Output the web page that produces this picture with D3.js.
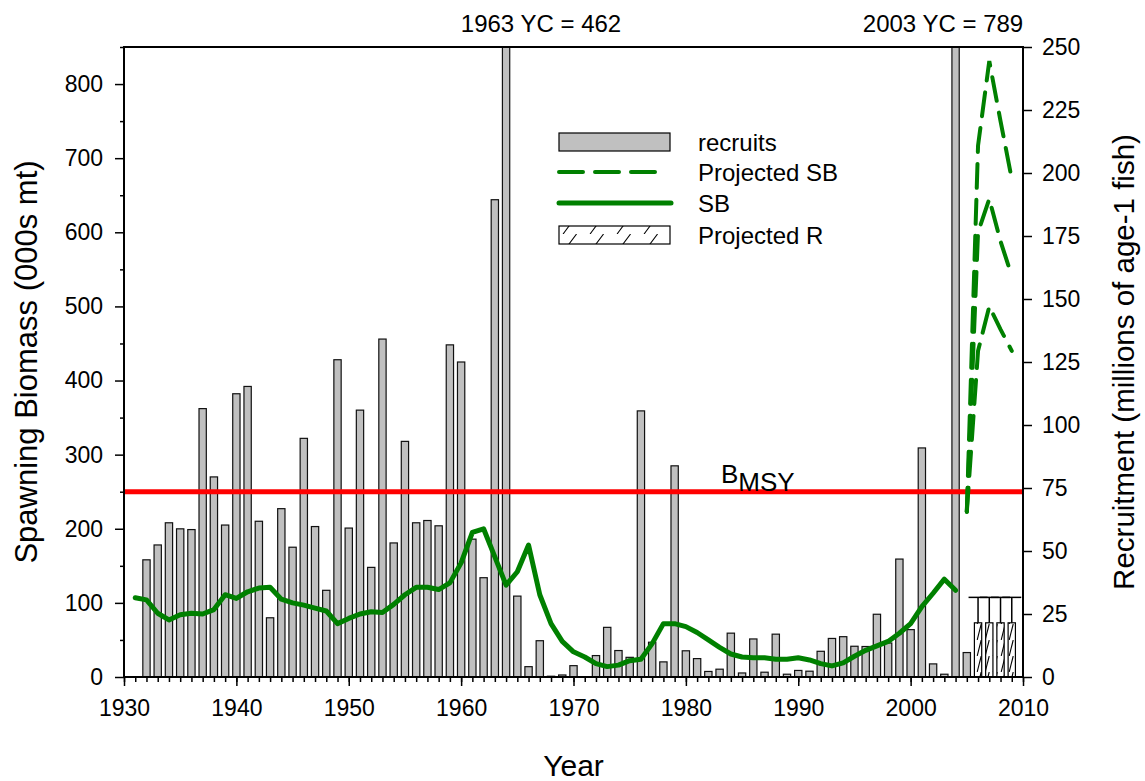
<!DOCTYPE html>
<html>
<head>
<meta charset="utf-8">
<script src="https://cdn.jsdelivr.net/npm/d3@7"></script>
<style>
  body { margin: 0; background: #fff; }
  text { font-family: "Liberation Sans", Arial, sans-serif; fill: #000; }
</style>
</head>
<body>
<div id="viz"></div>
<script>
// recruits (millions of age-1 fish), plotted at age-1 year
const recruitYears = d3.range(1932, 2006);
const recruits = [
  46.5, 52.4, 61.2, 58.8, 58.5, 106.5, 79.4, 60.3, 112.4, 115.3,
  61.8, 23.5, 66.8, 51.5, 94.7, 59.7, 34.4, 125.9, 59.1, 105.9,
  43.5, 134.1, 53.2, 93.5, 61.2, 62.1, 60.0, 131.8, 125.0, 54.7,
  39.4, 189.4, 462, 32.1, 4.1, 14.4, 0.3, 0.8, 4.5, 0,
  8.5, 19.7, 10.5, 7.8, 105.6, 13.8, 6.0, 83.8, 10.4, 7.3,
  2.2, 3.1, 17.4, 1.6, 15.1, 1.9, 17.0, 1.1, 2.6, 2.3,
  10.2, 15.3, 16.0, 12.2, 12.1, 24.9, 13.5, 46.8, 18.8, 90.9,
  5.2, 1.1, 789, 9.7
];

// spawning biomass (000s mt)
const sbYears = d3.range(1931, 2005);
const sb = [
  107, 104, 86, 77, 84, 86, 85, 91, 111, 106,
  115, 120, 121, 105, 100, 97, 93, 89, 72, 79,
  85, 88, 87, 98, 111, 121, 121, 118, 127, 154,
  195, 200, 162, 124, 142, 178, 111, 72, 48, 34,
  27, 18, 14, 16, 22, 24, 45, 72, 72, 68,
  60, 50, 40, 31, 27, 26, 26, 24, 24, 26,
  23, 18, 15, 19, 28, 36, 42, 48, 59, 72,
  95, 113, 132, 117
];

// projected SB (000s mt), three scenarios
const projYears = [2005, 2006, 2007, 2008, 2009];
const projHigh = [223, 717, 831, 750, 672];
const projMid = [223, 600, 645, 588, 541];
const projLow = [223, 440, 500, 469, 440];

// projected recruitment (millions) with upper error
const projRYears = [2006, 2007, 2008, 2009];
const projR = [21.5, 21.5, 21.5, 21.5];
const projRUpper = [31.6, 31.6, 31.6, 31.6];

const bmsy = 250;
const leftTicks = d3.range(0, 801, 100);
const rightTicks = d3.range(0, 251, 25);
const yearTicks = d3.range(1930, 2011, 10);

const width = 1145;
const height = 781;
const margin = {top: 47, right: 122, bottom: 104, left: 124};

const svg = d3.select('#viz')
  .append('svg')
  .attr('width', width)
  .attr('height', height);

const x = d3.scaleLinear().domain([1930, 2010]).range([margin.left, width - margin.right]);
const yL = d3.scaleLinear().domain([0, 850]).range([height - margin.bottom, margin.top]);
const yR = d3.scaleLinear().domain([0, 250]).range([height - margin.bottom, margin.top]);

const barW = (x(1931) - x(1930)) * 0.65;

const defs = svg.append('defs');
defs.append('clipPath').attr('id', 'plot')
  .append('rect')
  .attr('x', margin.left).attr('y', margin.top)
  .attr('width', x(2010) - x(1930)).attr('height', yL(0) - yL(850));

// hatch patterns: bars and legend swatch
const makeHatch = (id, w, h) => {
  const p = defs.append('pattern')
    .attr('id', id)
    .attr('patternUnits', 'userSpaceOnUse')
    .attr('width', w).attr('height', h);
  p.append('rect').attr('width', w).attr('height', h).attr('fill', '#fff');
  p.append('path')
    .attr('d', `M${w * 0.15},${h} L${w * 0.65},0`)
    .attr('stroke', '#000').attr('stroke-width', 1.1);
};
makeHatch('hatch', 8, 16);
makeHatch('hatchLegend', 27, 18);

const plot = svg.append('g').attr('clip-path', 'url(#plot)');

// recruits bars
plot.selectAll('.bar')
  .data(recruits)
  .join('rect')
  .attr('class', 'bar')
  .attr('x', (d, i) => x(recruitYears[i]) - barW / 2)
  .attr('y', d => yR(d))
  .attr('width', barW)
  .attr('height', d => yR(0) - yR(d))
  .attr('fill', '#c0c0c0')
  .attr('stroke', '#111')
  .attr('stroke-width', 1.2);

// projected recruitment with error bars
plot.selectAll('.pbar')
  .data(projR)
  .join('rect')
  .attr('class', 'pbar')
  .attr('x', (d, i) => x(projRYears[i]) - barW / 2)
  .attr('y', d => yR(d))
  .attr('width', barW)
  .attr('height', d => yR(0) - yR(d))
  .attr('fill', 'url(#hatch)')
  .attr('stroke', '#000')
  .attr('stroke-width', 1.2);

const capW = 9.5;
projRUpper.forEach((u, i) => {
  const cx = x(projRYears[i]);
  plot.append('line')
    .attr('x1', cx).attr('x2', cx)
    .attr('y1', yR(projR[i])).attr('y2', yR(u))
    .attr('stroke', '#000').attr('stroke-width', 1.5);
  plot.append('line')
    .attr('x1', cx - capW).attr('x2', cx + capW)
    .attr('y1', yR(u)).attr('y2', yR(u))
    .attr('stroke', '#000').attr('stroke-width', 1.5);
});

// BMSY reference line
plot.append('line')
  .attr('x1', x(1930)).attr('x2', x(2010))
  .attr('y1', yL(bmsy)).attr('y2', yL(bmsy))
  .attr('stroke', '#ff0000')
  .attr('stroke-width', 5);

const bLabel = svg.append('text')
  .attr('x', 721)
  .attr('y', yL(bmsy) - 9)
  .style('font-size', '26px');
bLabel.append('tspan').text('B');
bLabel.append('tspan').attr('dy', 8).text('MSY');

// SB line
const line = d3.line()
  .x(d => x(d[0]))
  .y(d => yL(d[1]));

plot.append('path')
  .datum(sbYears.map((yr, i) => [yr, sb[i]]))
  .attr('d', line)
  .attr('fill', 'none')
  .attr('stroke', '#008000')
  .attr('stroke-width', 5)
  .attr('stroke-linejoin', 'round')
  .attr('stroke-linecap', 'round');

// projected SB lines
[projHigh, projMid, projLow].forEach(s => {
  plot.append('path')
    .datum(projYears.map((yr, i) => [yr, s[i]]))
    .attr('d', line)
    .attr('fill', 'none')
    .attr('stroke', '#008000')
    .attr('stroke-width', 4)
    .attr('stroke-dasharray', '24,12')
    .attr('stroke-linecap', 'round');
});

// axes
const axisG = svg.append('g');

axisG.append('g')
  .attr('transform', `translate(0,${yL(0)})`)
  .call(d3.axisBottom(x).tickValues(d3.range(1930, 2011)).tickSize(5).tickFormat(''))
  .call(g => g.select('.domain').remove());

axisG.append('g')
  .attr('transform', `translate(0,${yL(0)})`)
  .call(d3.axisBottom(x).tickValues(yearTicks).tickSize(9).tickPadding(14).tickFormat(d3.format('d')))
  .call(g => g.select('.domain').remove());

axisG.append('g')
  .attr('transform', `translate(${x(1930)},0)`)
  .call(d3.axisLeft(yL).tickValues(d3.range(50, 851, 100)).tickSize(4).tickFormat(''))
  .call(g => g.select('.domain').remove());

axisG.append('g')
  .attr('transform', `translate(${x(1930)},0)`)
  .call(d3.axisLeft(yL).tickValues(leftTicks).tickSize(9).tickPadding(12))
  .call(g => g.select('.domain').remove());

axisG.append('g')
  .attr('transform', `translate(${x(2010)},0)`)
  .call(d3.axisRight(yR).tickValues(rightTicks).tickSize(9).tickPadding(10))
  .call(g => g.select('.domain').remove());

axisG.selectAll('.tick line').attr('stroke', '#000').attr('stroke-width', 1.5);
axisG.selectAll('.tick text').style('font-size', '23px').attr('fill', '#000');

// frame
svg.append('rect')
  .attr('x', x(1930)).attr('y', yL(850))
  .attr('width', x(2010) - x(1930)).attr('height', yL(0) - yL(850))
  .attr('fill', 'none')
  .attr('stroke', '#000')
  .attr('stroke-width', 2);

// axis titles
const midY = (yL(0) + yL(850)) / 2;
svg.append('text')
  .attr('transform', `translate(37,${midY}) rotate(-90)`)
  .attr('text-anchor', 'middle')
  .style('font-size', '31px')
  .text('Spawning Biomass (000s mt)');

svg.append('text')
  .attr('transform', `translate(1134,${midY}) rotate(-90)`)
  .attr('text-anchor', 'middle')
  .style('font-size', '29.5px')
  .text('Recruitment (millions of age-1 fish)');

svg.append('text')
  .attr('x', (x(1930) + x(2010)) / 2)
  .attr('y', 776)
  .attr('text-anchor', 'middle')
  .style('font-size', '30px')
  .text('Year');

// year class notes
svg.append('text')
  .attr('x', 541)
  .attr('y', 32)
  .attr('text-anchor', 'middle')
  .style('font-size', '24px')
  .text('1963 YC = 462');

svg.append('text')
  .attr('x', 943)
  .attr('y', 32)
  .attr('text-anchor', 'middle')
  .style('font-size', '24px')
  .text('2003 YC = 789');

// legend
const legend = svg.append('g').attr('transform', 'translate(559,0)');
const rowY = [142, 172, 203, 235];
const legendLabels = ['recruits', 'Projected SB', 'SB', 'Projected R'];

legend.append('rect')
  .attr('x', 0).attr('y', rowY[0] - 9)
  .attr('width', 111).attr('height', 18)
  .attr('fill', '#c0c0c0').attr('stroke', '#000').attr('stroke-width', 1.2);

legend.append('line')
  .attr('x1', 0).attr('x2', 100)
  .attr('y1', rowY[1]).attr('y2', rowY[1])
  .attr('stroke', '#008000').attr('stroke-width', 4)
  .attr('stroke-dasharray', '24,12').attr('stroke-linecap', 'round');

legend.append('line')
  .attr('x1', 0).attr('x2', 112)
  .attr('y1', rowY[2]).attr('y2', rowY[2])
  .attr('stroke', '#008000').attr('stroke-width', 5).attr('stroke-linecap', 'round');

legend.append('rect')
  .attr('x', 0).attr('y', rowY[3] - 9)
  .attr('width', 111).attr('height', 18)
  .attr('fill', 'url(#hatchLegend)').attr('stroke', '#000').attr('stroke-width', 1.2);

legend.selectAll('.ltext')
  .data(legendLabels)
  .join('text')
  .attr('class', 'ltext')
  .attr('x', 139)
  .attr('y', (d, i) => rowY[i] + 9)
  .style('font-size', '24px')
  .text(d => d);
</script>
</body>
</html>
